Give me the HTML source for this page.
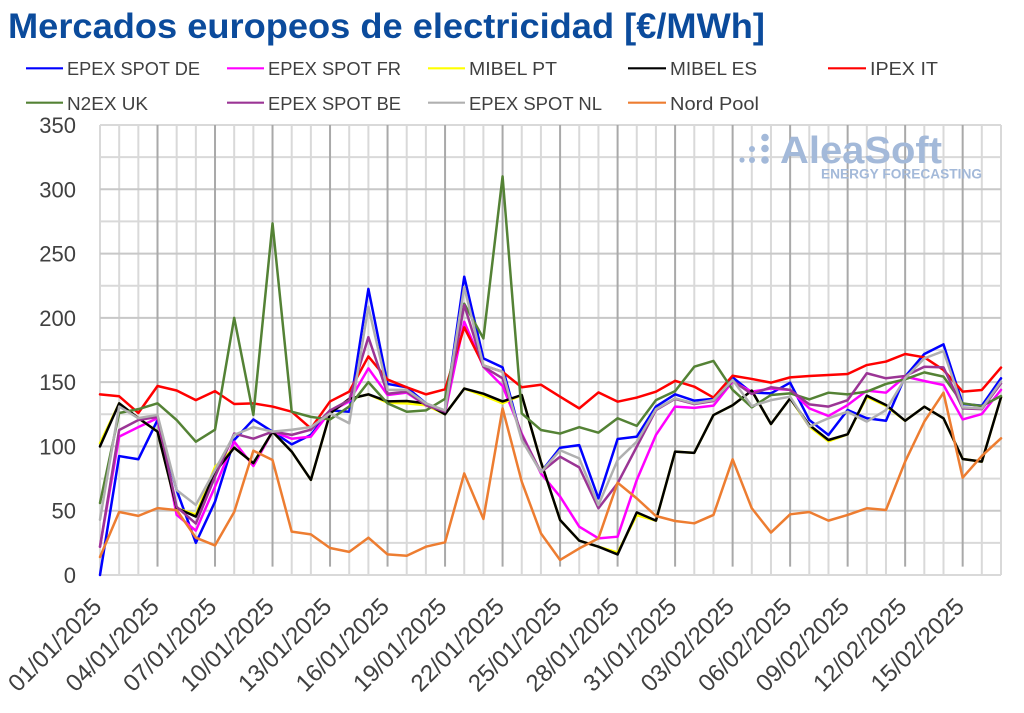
<!DOCTYPE html>
<html>
<head>
<meta charset="utf-8">
<style>
html,body{margin:0;padding:0;background:#fff;}
svg{display:block;}
text{font-family:"Liberation Sans",sans-serif;}
</style>
</head>
<body>
<svg width="1024" height="713" viewBox="0 0 1024 713" xmlns="http://www.w3.org/2000/svg">
<rect x="0" y="0" width="1024" height="713" fill="#ffffff"/>

<!-- Title -->
<text x="8" y="38" font-size="35" font-weight="bold" fill="#0b4b9c" textLength="757" lengthAdjust="spacingAndGlyphs">Mercados europeos de electricidad [€/MWh]</text>

<!-- Legend -->
<g stroke-width="2.2" fill="none">
<line x1="26" y1="68.3" x2="63" y2="68.3" stroke="#0000ff"/>
<line x1="227" y1="68.3" x2="264" y2="68.3" stroke="#ff00ff"/>
<line x1="428" y1="68.3" x2="465" y2="68.3" stroke="#ffff00"/>
<line x1="628" y1="68.3" x2="666" y2="68.3" stroke="#000000"/>
<line x1="828" y1="68.3" x2="866" y2="68.3" stroke="#ff0000"/>
<line x1="26" y1="102.7" x2="63" y2="102.7" stroke="#548235"/>
<line x1="227" y1="102.7" x2="264" y2="102.7" stroke="#9b3595"/>
<line x1="428" y1="102.7" x2="465" y2="102.7" stroke="#b0b0b0"/>
<line x1="628" y1="102.7" x2="666" y2="102.7" stroke="#ed7d31"/>
</g>
<g font-size="18.5" fill="#404040">
<text x="67" y="75" textLength="133" lengthAdjust="spacingAndGlyphs">EPEX SPOT DE</text>
<text x="268" y="75" textLength="133" lengthAdjust="spacingAndGlyphs">EPEX SPOT FR</text>
<text x="469" y="75" textLength="88" lengthAdjust="spacingAndGlyphs">MIBEL PT</text>
<text x="670" y="75" textLength="87" lengthAdjust="spacingAndGlyphs">MIBEL ES</text>
<text x="870" y="75" textLength="68" lengthAdjust="spacingAndGlyphs">IPEX IT</text>
<text x="67" y="110" textLength="81" lengthAdjust="spacingAndGlyphs">N2EX UK</text>
<text x="268" y="110" textLength="133" lengthAdjust="spacingAndGlyphs">EPEX SPOT BE</text>
<text x="469" y="110" textLength="133" lengthAdjust="spacingAndGlyphs">EPEX SPOT NL</text>
<text x="670" y="110" textLength="89" lengthAdjust="spacingAndGlyphs">Nord Pool</text>
</g>

<!-- Plot: data space group -->
<g transform="translate(100 575) scale(19.1702 -1.285714)">
  <!-- minor vertical grid -->
  <path vector-effect="non-scaling-stroke" stroke="#d9d9d9" stroke-width="2" fill="none"
   d="M0 0V350M1 0V350M2 0V350M4 0V350M5 0V350M7 0V350M8 0V350M10 0V350M11 0V350M13 0V350M14 0V350M16 0V350M17 0V350M19 0V350M20 0V350M22 0V350M23 0V350M25 0V350M26 0V350M28 0V350M29 0V350M31 0V350M32 0V350M34 0V350M35 0V350M37 0V350M38 0V350M40 0V350M41 0V350M43 0V350M44 0V350M46 0V350M47 0V350"/>
  <!-- horizontal grid minor -->
  <path vector-effect="non-scaling-stroke" stroke="#d9d9d9" stroke-width="2" fill="none"
   d="M0 0H47M0 25H47M0 75H47M0 125H47M0 175H47M0 225H47M0 275H47M0 325H47M0 350H47"/>
  <!-- horizontal grid major -->
  <path vector-effect="non-scaling-stroke" stroke="#c8c8c8" stroke-width="2" fill="none"
   d="M0 50H47M0 100H47M0 150H47M0 200H47M0 250H47M0 300H47"/>
  <!-- major vertical grid -->
  <path vector-effect="non-scaling-stroke" stroke="#a9a9a9" stroke-width="2" fill="none"
   d="M3 6.5V350M6 6.5V350M9 6.5V350M12 6.5V350M15 6.5V350M18 6.5V350M21 6.5V350M24 6.5V350M27 6.5V350M30 6.5V350M33 6.5V350M36 6.5V350M39 6.5V350M42 6.5V350M45 6.5V350"/>
</g>

<!-- Watermark -->
<g fill="#a3b9d9">
  <circle cx="742" cy="160" r="2.6"/>
  <circle cx="752" cy="149" r="3"/>
  <circle cx="752" cy="160" r="3"/>
  <circle cx="765" cy="137.5" r="3.8"/>
  <circle cx="765" cy="148.5" r="3.8"/>
  <circle cx="765" cy="160" r="3.8"/>
  <text x="780" y="163" font-size="38" font-weight="bold" textLength="162" lengthAdjust="spacingAndGlyphs">AleaSoft</text>
  <text x="821" y="178.5" font-size="13.5" font-weight="bold" textLength="161" lengthAdjust="spacingAndGlyphs">ENERGY FORECASTING</text>
</g>

<!-- Series -->
<g transform="translate(100 575) scale(19.1702 -1.285714)" fill="none" stroke-width="2.5" stroke-linejoin="round" stroke-linecap="round">
  <polyline vector-effect="non-scaling-stroke" stroke="#0000ff" points="0,0 1,92.5 2,90 3,120.5 4,66 5,25 6,57 7,105 8,121 9,111.5 10,101.6 11,109 12,128 13,127 14,222.5 15,148.6 16,146 17,133.5 18,127 19,232 20,168.5 21,161.5 22,106 23,80 24,99 25,101 26,59.6 27,105.8 28,107.6 29,131 30,140.5 31,135.6 32,137 33,153.7 34,141.8 35,141.3 36,149.6 37,120.6 38,108.9 39,128.3 40,121.9 41,120 42,154.3 43,171.9 44,179.4 45,133 46,131.7 47,153"/>
  <polyline vector-effect="non-scaling-stroke" stroke="#ff00ff" points="0,22 1,107.6 2,115 3,122 4,46.7 5,34.5 6,68.7 7,103.7 8,84.8 9,111.5 10,106 11,107.6 12,127 13,135 14,160.7 15,140 16,141.8 17,132 18,126 19,197 20,162 21,147 22,110 23,79 24,61 25,37.6 26,28.5 27,29.8 28,73.9 29,108.9 30,131 31,130 32,131.7 33,150.4 34,142.6 35,145 36,144 37,129.6 38,123.7 39,132.2 40,143.4 41,141.8 42,154.3 43,150.9 44,147.8 45,121 46,125.2 47,144"/>
  <polyline vector-effect="non-scaling-stroke" stroke="#ffff00" points="0,102.5 1,133.5 2,122 3,111.5 4,52 5,47 6,84 7,99 8,87 9,111.5 10,96 11,74 12,125.7 13,137 14,140.5 15,134 16,133.5 17,132 18,125 19,145 20,139.5 21,133.5 22,140 23,88 24,42.8 25,26.7 26,22 27,17.5 28,46.5 29,42.3 30,96 31,95 32,124.4 33,132 34,143.4 35,117.4 36,137.4 37,115.5 38,104 39,109.4 40,138.5 41,131.5 42,120 43,130.9 44,121.9 45,90.2 46,88.2 47,138.2"/>
  <polyline vector-effect="non-scaling-stroke" stroke="#000000" points="0,100 1,133.5 2,122 3,111.5 4,52 5,45.4 6,80 7,99 8,87 9,111.5 10,96 11,74 12,125.7 13,137 14,140.5 15,135 16,135.3 17,133.5 18,125 19,145 20,141 21,135 22,140 23,88 24,42.8 25,26.7 26,22 27,16 28,48.7 29,42.3 30,96 31,95 32,124.4 33,132 34,143.4 35,117.4 36,137.4 37,116.7 38,105 39,109.4 40,139.5 41,132.2 42,120 43,130.9 44,121.9 45,90.2 46,88.2 47,138.2"/>
  <polyline vector-effect="non-scaling-stroke" stroke="#ff0000" points="0,140.5 1,139 2,126 3,147 4,143.5 5,136 6,143 7,133 8,133.5 9,131 10,127 11,114 12,135 13,142.6 14,170 15,152 16,146 17,140.5 18,144.4 19,192.6 20,163 21,158 22,146 23,148 24,138.7 25,129.6 26,142 27,134.8 28,138 29,142.6 30,151 31,146.5 32,138 33,155 34,152.5 35,149.6 36,153.7 37,154.8 38,155.6 39,156.3 40,163.3 41,166 42,171.9 43,169.3 44,159.5 45,142.6 46,143.9 47,161.3"/>
  <polyline vector-effect="non-scaling-stroke" stroke="#548235" points="0,56 1,126 2,129 3,133.5 4,120.5 5,103.7 6,113 7,200 8,124.5 9,273.5 10,127 11,123 12,121 13,131 14,150 15,133.5 16,127 17,128 18,137 19,211 20,184 21,310 22,125.7 23,112.8 24,110 25,115 26,110.7 27,121.9 28,116 29,136 30,143 31,162 32,166.5 33,144 34,130.4 35,140 36,141.3 37,136.6 38,141.8 39,140.5 40,142.6 41,148.6 42,152.2 43,157.6 44,154.3 45,133.5 46,131.4 47,139.2"/>
  <polyline vector-effect="non-scaling-stroke" stroke="#9b3595" points="0,22 1,112.8 2,120.5 3,123 4,53 5,40 6,76.5 7,110 8,106 9,111.5 10,109 11,113 12,128 13,136 14,185 15,141 16,142.6 17,132 18,127 19,210 20,162 21,153 22,109 23,80 24,92 25,83.7 26,51.9 27,71.3 28,99.8 29,128.3 30,137 31,133 32,135.3 33,151 34,140.8 35,146 36,144 37,132.7 38,131 39,136 40,156.9 41,153 42,154.8 43,162 44,161.5 45,129.6 46,129 47,149"/>
  <polyline vector-effect="non-scaling-stroke" stroke="#b0b0b0" points="0,43 1,131 2,122 3,124.5 4,66 5,54.5 6,81.7 7,109 8,115 9,111.5 10,113 11,115 12,125.7 13,118 14,208.7 15,144 16,144 17,133.5 18,128 19,224 20,163 21,158 22,105 23,80 24,97 25,90.7 26,54.4 27,89.4 28,103.7 29,128.9 30,137.4 31,133.5 32,136 33,151.7 34,131.4 35,136 36,138.7 37,115.4 38,121.9 39,127 40,119.3 41,128.3 42,153 43,168.5 44,174.2 45,130.4 46,129.6 47,150.4"/>
  <polyline vector-effect="non-scaling-stroke" stroke="#ed7d31" points="0,14 1,49 2,46 3,52 4,50.5 5,29 6,23 7,49 8,96.7 9,89.4 10,33.7 11,31.6 12,21 13,18 14,29 15,16 16,15 17,22 18,25.4 19,79 20,43.6 21,129.6 22,72.6 23,32.4 24,11.7 25,20.7 26,28.5 27,71.8 28,59.6 29,45.9 30,42 31,40.2 32,46.7 33,90 34,51.9 35,33 36,47.2 37,49 38,42.3 39,46.7 40,51.9 41,50.6 42,88.2 43,119.3 44,141.8 45,75.7 46,92.6 47,106.3"/>
</g>

<!-- Y axis labels -->
<g font-size="22" fill="#404040" text-anchor="end">
<text x="76" y="133">350</text>
<text x="76" y="197.3">300</text>
<text x="76" y="261.6">250</text>
<text x="76" y="325.9">200</text>
<text x="76" y="390.1">150</text>
<text x="76" y="454.4">100</text>
<text x="76" y="518.7">50</text>
<text x="76" y="583">0</text>
</g>

<!-- X axis labels -->
<g font-size="24" fill="#404040" text-anchor="end">
<text transform="translate(103 608) rotate(-45)">01/01/2025</text>
<text transform="translate(160.5 608) rotate(-45)">04/01/2025</text>
<text transform="translate(218 608) rotate(-45)">07/01/2025</text>
<text transform="translate(275.5 608) rotate(-45)">10/01/2025</text>
<text transform="translate(333 608) rotate(-45)">13/01/2025</text>
<text transform="translate(390.6 608) rotate(-45)">16/01/2025</text>
<text transform="translate(448 608) rotate(-45)">19/01/2025</text>
<text transform="translate(505.6 608) rotate(-45)">22/01/2025</text>
<text transform="translate(563 608) rotate(-45)">25/01/2025</text>
<text transform="translate(620.6 608) rotate(-45)">28/01/2025</text>
<text transform="translate(678 608) rotate(-45)">31/01/2025</text>
<text transform="translate(735.6 608) rotate(-45)">03/02/2025</text>
<text transform="translate(793 608) rotate(-45)">06/02/2025</text>
<text transform="translate(850.6 608) rotate(-45)">09/02/2025</text>
<text transform="translate(908 608) rotate(-45)">12/02/2025</text>
<text transform="translate(965.6 608) rotate(-45)">15/02/2025</text>
</g>
</svg>
</body>
</html>
